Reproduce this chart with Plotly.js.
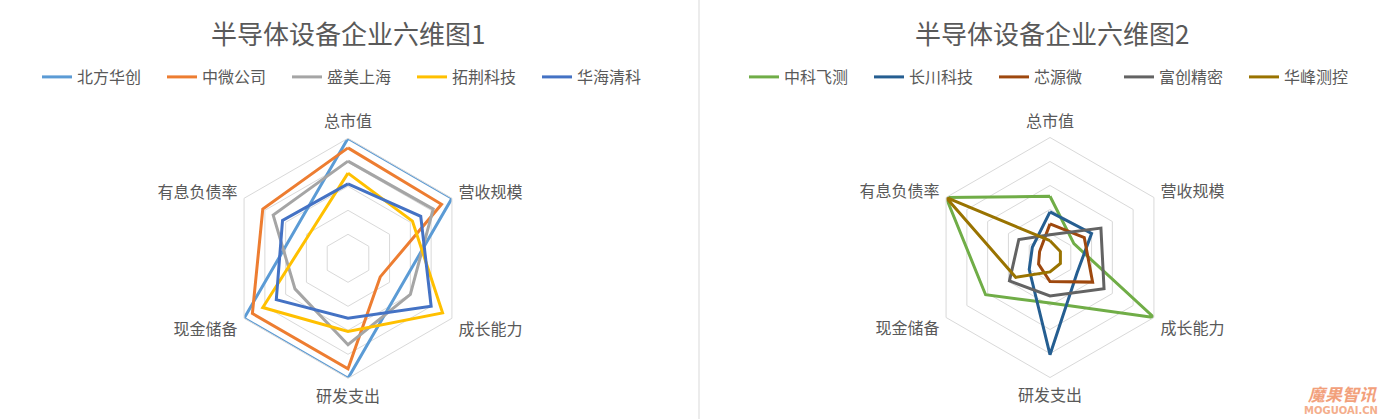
<!DOCTYPE html>
<html><head><meta charset="utf-8">
<script src="https://cdn.plot.ly/plotly-3.0.1.min.js"></script>
<style>html,body{margin:0;padding:0;background:#fff;}#chart{width:1398px;height:419px;}</style>
</head><body><div id="chart"></div>
<script>
// ---- data ----
const categories = ['总市值','营收规模','成长能力','研发支出','现金储备','有息负债率'];

const title1 = '半导体设备企业六维图1';
const title2 = '半导体设备企业六维图2';

const companies1 = ['北方华创','中微公司','盛美上海','拓荆科技','华海清科'];
const colors1 = ['#5B9BD5','#ED7D31','#A5A5A5','#FFC000','#4472C4'];
const naura   = [1.00, 1.00, 0.50, 1.00, 1.00, 0.50];
const amec    = [0.92, 0.90, 0.31, 0.92, 0.92, 0.82];
const acm     = [0.81, 0.82, 0.60, 0.72, 0.51, 0.72];
const piotech = [0.71, 0.62, 0.91, 0.61, 0.82, 0.38];
const hwatsing= [0.62, 0.70, 0.80, 0.50, 0.69, 0.63];
const values1 = [naura, amec, acm, piotech, hwatsing];

const companies2 = ['中科飞测','长川科技','芯源微','富创精密','华峰测控'];
const colors2 = ['#70AD47','#255E91','#9E480E','#636363','#997300'];
const skyverse = [0.51, 0.23, 1.00, 0.38, 0.62, 1.00];
const changchuan = [0.38, 0.40, 0.26, 0.81, 0.20, 0.17];
const kingsemi = [0.28, 0.33, 0.41, 0.20, 0.11, 0.10];
const fortune = [0.19, 0.49, 0.52, 0.32, 0.39, 0.30];
const accotest = [0.14, 0.10, 0.10, 0.12, 0.33, 1.00];
const values2 = [skyverse, changchuan, kingsemi, fortune, accotest];

// ---- build ----
const W = 1398, H = 419;
const FONT = '"Noto Sans CJK SC", "Noto Sans", sans-serif';
const TXT = '#595959';
const GRID = '#D9D9D9';

function closeLoop(a){ return a.concat([a[0]]); }

const traces = [];
companies1.forEach((name, i) => {
  traces.push({type:'scatterpolar', mode:'lines', name:name,
    r: closeLoop(values1[i]), theta: closeLoop(categories),
    line:{color:colors1[i], width:3, shape:'linear'}, subplot:'polar', legend:'legend',
    hoverinfo:'skip'});
});
companies2.forEach((name, i) => {
  traces.push({type:'scatterpolar', mode:'lines', name:name,
    r: closeLoop(values2[i]), theta: closeLoop(categories),
    line:{color:colors2[i], width:3, shape:'linear'}, subplot:'polar2', legend:'legend2',
    hoverinfo:'skip'});
});

function polarCfg(cx, cy, R){
  return {
    domain:{x:[(cx-R)/W,(cx+R)/W], y:[1-(cy+R)/H, 1-(cy-R)/H]},
    bgcolor:'rgba(0,0,0,0)',
    gridshape:'linear',
    radialaxis:{range:[0,1], dtick:0.2, tick0:0, showticklabels:false, ticks:'',
      showline:false, gridcolor:GRID, gridwidth:1},
    angularaxis:{type:'category', categoryarray:categories, direction:'clockwise', rotation:90,
      showgrid:false, showline:true, linecolor:GRID, linewidth:1,
      ticks:'outside', ticklen:4, tickcolor:'rgba(0,0,0,0)',
      tickfont:{family:FONT, size:16, color:TXT}}
  };
}

const legendBase = {orientation:'h', xanchor:'left', yanchor:'middle',
  font:{family:FONT, size:16, color:TXT}, bgcolor:'rgba(0,0,0,0)',
  entrywidth:80, entrywidthmode:'pixels',
  itemclick:false, itemdoubleclick:false};

const layout = {
  width:W, height:H, margin:{l:0,r:0,t:0,b:0},
  paper_bgcolor:'#fff', font:{family:FONT, color:TXT},
  showlegend:true,
  polar: polarCfg(348, 258.3, 120),
  polar2: polarCfg(1050, 257.5, 120),
  legend: Object.assign({}, legendBase, {x:37/W, y:1-77/H}),
  legend2: Object.assign({}, legendBase, {x:744/W, y:1-77/H}),
  annotations:[
    {text:title1, x:348/W, y:1-33/H, xref:'paper', yref:'paper', showarrow:false,
     xanchor:'center', yanchor:'middle', font:{family:FONT, size:26, color:TXT}},
    {text:title2, x:1052/W, y:1-33/H, xref:'paper', yref:'paper', showarrow:false,
     xanchor:'center', yanchor:'middle', font:{family:FONT, size:26, color:TXT}},
    {text:'<i><b>魔果智讯</b></i>', x:1342/W, y:1-393/H, xref:'paper', yref:'paper', showarrow:false,
     xanchor:'center', yanchor:'middle', font:{family:FONT, size:17, color:'#F2A07B'}},
    {text:'<b>MOGUOAI.CN</b>', x:1341/W, y:1-410/H, xref:'paper', yref:'paper', showarrow:false,
     xanchor:'center', yanchor:'middle', font:{family:'"DejaVu Sans", sans-serif', size:10, color:'#F4AE8C'}}
  ],
  shapes:[
    {type:'line', xref:'paper', yref:'paper', x0:699/W, x1:699/W, y0:0, y1:1,
     line:{color:GRID, width:1}}
  ]
};

Plotly.newPlot('chart', traces, layout, {staticPlot:true, displayModeBar:false});
</script>
</body></html>
